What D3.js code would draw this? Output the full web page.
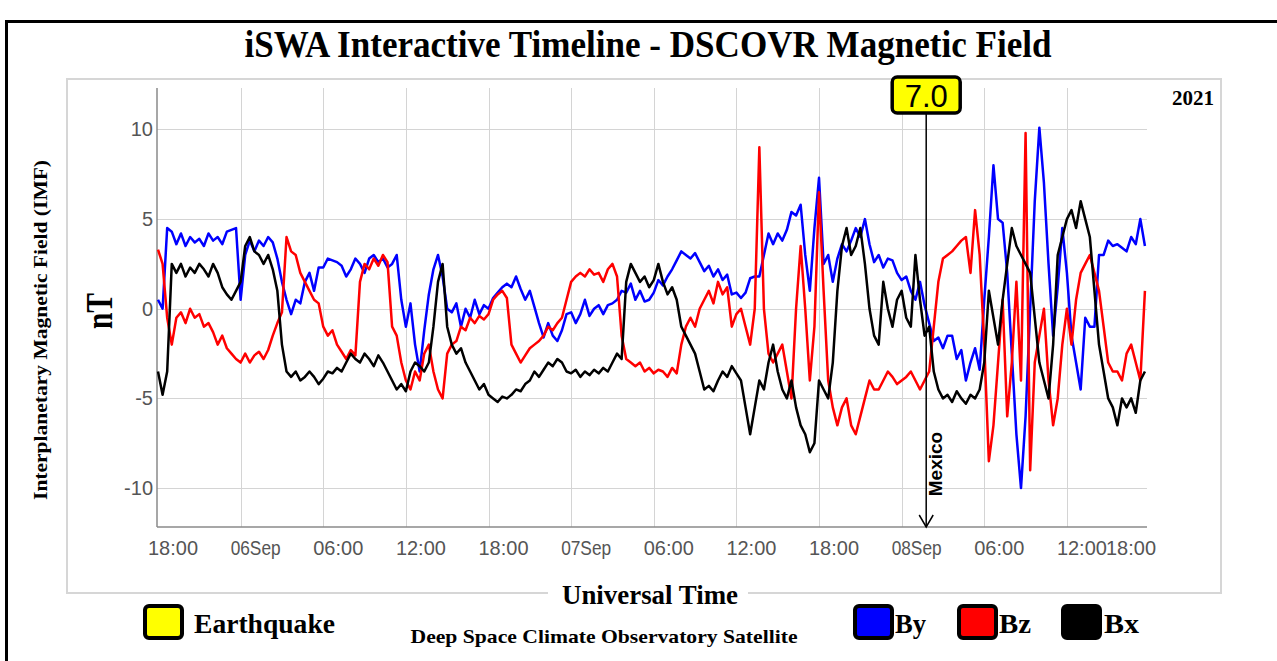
<!DOCTYPE html>
<html><head><meta charset="utf-8">
<script src="https://cdn.jsdelivr.net/npm/d3@7"></script>
<style>html,body{margin:0;padding:0;background:#fff;}svg{display:block;}</style>
</head><body><svg id="c" width="1277" height="661"></svg>
<script>
// ---- data (20-minute samples starting 2021-09-05 18:00 UTC) ----
const startTime = Date.UTC(2021, 8, 5, 18, 0);
const endTime = Date.UTC(2021, 8, 8, 17, 49);
const stepMinutes = 20;
const byValues = [0.5,0.0,4.5,4.3,3.6,4.2,3.5,4.0,3.7,3.9,3.5,4.2,3.8,4.0,3.6,4.3,4.4,4.5,0.5,3.0,3.8,3.2,3.8,3.5,4.0,3.7,2.8,1.5,0.5,-0.3,0.5,0.3,1.5,2.0,1.0,2.3,2.3,2.8,2.7,2.6,2.4,1.8,2.2,2.8,2.5,2.0,2.8,3.0,2.6,2.8,2.3,2.5,3.0,0.5,-1.0,0.3,-2.0,-3.5,-1.2,0.8,2.2,3.0,1.8,0.0,-0.2,0.3,-1.0,0.0,-0.5,0.5,-0.3,0.2,0.0,0.6,0.9,1.2,1.4,1.2,1.8,1.1,0.5,1.0,0.1,-0.8,-1.6,-0.8,-1.5,-1.8,-1.2,-0.3,-0.2,-0.8,-0.3,0.5,-0.4,0.0,0.2,-0.3,0.2,0.3,0.5,1.0,0.9,1.4,0.5,1.0,0.4,0.5,0.9,1.6,1.3,1.8,2.2,2.7,3.2,3.0,2.8,3.1,2.6,2.1,2.4,1.8,2.2,1.6,1.9,0.8,0.9,0.6,0.9,1.7,1.8,1.8,3.0,4.2,3.6,4.2,3.8,4.4,5.4,5.2,5.8,3.0,1.0,4.5,7.3,2.5,3.0,1.5,2.8,3.6,3.2,3.8,4.5,4.0,5.0,3.6,2.6,3.0,2.3,2.8,2.7,2.0,1.6,1.8,1.0,0.5,1.5,0.2,-0.8,-1.8,-1.6,-2.2,-1.5,-1.5,-2.8,-2.3,-4.0,-3.0,-2.2,-3.4,0.5,4.0,8.0,5.0,4.8,2.0,-2.5,-7.0,-10.0,-6.0,0.0,6.0,10.1,7.0,2.5,-1.5,1.2,4.5,2.0,-1.5,-3.0,-4.5,-0.5,-1.0,-1.0,3.0,3.0,3.8,3.5,3.6,3.4,3.2,4.0,3.6,5.0,3.5];
const bzValues = [3.3,2.5,-0.5,-2.0,-0.5,-0.2,-0.8,0.0,-0.5,-0.3,-1.0,-0.8,-1.3,-2.0,-1.5,-2.2,-2.5,-2.8,-3.0,-2.5,-3.0,-2.6,-2.4,-2.8,-2.3,-1.5,-0.8,-0.2,4.0,3.2,3.0,2.0,1.5,1.0,0.5,0.3,-1.0,-1.5,-1.2,-2.0,-2.4,-2.8,-2.3,-2.6,1.5,2.5,2.2,2.8,2.4,3.0,2.6,-1.0,-1.5,-3.0,-4.0,-4.5,-3.5,-4.0,-2.5,-2.0,-3.5,-4.5,-5.0,-2.5,-2.0,-1.8,-1.0,-1.2,-0.5,-0.8,-0.4,-0.6,-0.3,0.5,0.8,1.0,0.6,-2.0,-2.5,-3.0,-2.6,-2.2,-2.0,-1.8,-1.5,-1.0,-1.2,-0.8,-0.5,0.5,1.5,1.8,2.0,1.8,2.2,1.9,2.0,1.5,2.2,2.5,1.8,-1.5,-2.8,-3.0,-3.2,-3.0,-3.5,-3.3,-3.6,-3.4,-3.5,-3.8,-3.3,-3.6,-2.0,-1.0,-0.5,-1.0,0.0,0.5,1.0,0.3,1.5,0.8,1.2,-1.0,-0.3,0.0,-1.0,-2.0,0.0,9.0,0.0,-2.5,-3.0,-2.5,-2.0,-3.5,-5.0,0.0,3.5,0.0,-4.0,-1.0,6.5,1.0,-4.0,-5.5,-6.5,-5.5,-5.0,-6.5,-7.0,-6.0,-5.0,-4.0,-4.5,-4.5,-4.0,-3.5,-3.8,-4.2,-4.0,-3.8,-3.5,-4.0,-4.5,-4.0,-3.5,-1.0,1.5,2.8,3.0,3.2,3.5,3.8,4.0,2.0,5.5,3.0,-2.0,-8.5,-6.5,-3.0,0.5,-6.0,-3.0,1.5,-4.0,9.8,-9.0,-3.0,-1.5,0.0,-4.0,-6.5,-5.0,-2.0,0.0,-2.0,0.5,2.0,2.5,3.0,2.0,1.0,-1.0,-3.0,-3.5,-3.5,-4.0,-2.5,-2.0,-3.0,-4.0,1.0];
const bxValues = [-3.5,-4.8,-3.5,2.5,2.0,2.5,1.8,2.3,2.0,2.5,2.2,1.8,2.5,2.0,1.2,0.8,0.5,1.0,1.5,3.5,4.0,3.2,3.0,2.5,3.0,2.2,1.0,-2.0,-3.5,-3.8,-3.5,-4.0,-3.8,-3.5,-3.8,-4.2,-3.9,-3.5,-3.6,-3.3,-3.5,-3.0,-2.5,-2.8,-3.0,-2.5,-2.8,-3.2,-2.6,-3.0,-3.5,-4.0,-4.5,-4.2,-4.6,-3.5,-3.0,-3.2,-3.5,-3.0,-1.0,1.5,2.5,-1.0,-2.0,-2.5,-2.2,-3.0,-3.5,-4.0,-4.5,-4.2,-4.8,-5.0,-5.2,-4.9,-5.0,-4.8,-4.5,-4.6,-4.2,-4.0,-3.5,-3.8,-3.4,-3.0,-3.2,-2.8,-3.0,-3.5,-3.6,-3.4,-3.8,-3.5,-3.7,-3.4,-3.6,-3.3,-3.5,-3.0,-2.5,-2.8,1.5,2.5,2.0,1.5,1.8,1.2,1.6,2.5,1.5,0.8,1.2,0.5,-1.0,-1.5,-2.0,-2.5,-3.5,-4.5,-4.3,-4.6,-4.0,-3.5,-3.8,-3.2,-3.6,-4.0,-5.5,-7.0,-5.5,-4.0,-4.5,-3.0,-2.0,-3.5,-4.5,-5.0,-4.0,-5.5,-6.5,-7.0,-8.0,-7.5,-4.0,-4.5,-5.0,-3.0,1.0,3.5,4.5,3.0,3.5,4.5,2.5,0.0,-1.5,-2.0,1.5,0.0,-1.0,0.5,1.0,-0.5,-1.0,3.0,0.5,-1.5,-1.0,-3.5,-4.5,-5.0,-4.8,-5.2,-4.6,-5.0,-5.3,-4.8,-5.0,-4.5,-3.0,1.0,-0.5,-2.0,0.5,2.5,4.5,3.5,3.0,2.5,2.0,-0.5,-3.0,-4.0,-5.0,-2.0,3.0,4.0,5.0,5.5,4.5,6.0,5.0,4.0,1.0,-2.0,-3.5,-5.0,-5.5,-6.5,-5.0,-5.5,-5.0,-5.8,-4.0,-3.5];
const seriesNames = ["By", "Bz", "Bx"];
const seriesColors = ["#0000ff", "#ff0000", "#000000"];
const yTicks = [-10, -5, 0, 5, 10];
const yDomain = [-12.17, 12.31];
const xTickLabels = ["18:00","06Sep","06:00","12:00","18:00","07Sep","06:00","12:00","18:00","08Sep","06:00","12:00","18:00"];
const quakeTime = Date.UTC(2021, 8, 8, 1, 47);
const quakeMagnitude = "7.0";
const quakePlace = "Mexico";
const yearLabel = "2021";

// ---- drawing ----
const svg = d3.select("#c");
const W = 1277, H = 661;
const plot = {left: 158, right: 1147, top: 88, bottom: 527};
const serif = "'Liberation Serif','Times New Roman',serif";
const sans = "'Liberation Sans',Arial,sans-serif";

const x = d3.scaleTime().domain([new Date(startTime), new Date(endTime)]).range([plot.left, plot.right]);
const y = d3.scaleLinear().domain(yDomain).range([plot.bottom, plot.top]);

svg.append("rect").attr("width", W).attr("height", H).attr("fill", "#fff");
svg.append("rect").attr("x", 6.5).attr("y", 21.5).attr("width", 1400).attr("height", 800)
  .attr("fill", "none").attr("stroke", "#000").attr("stroke-width", 3);
svg.append("rect").attr("x", 67).attr("y", 79).attr("width", 1154).attr("height", 514)
  .attr("fill", "none").attr("stroke", "#d6d6d6").attr("stroke-width", 2);

svg.append("text").attr("x", 648).attr("y", 57).attr("text-anchor", "middle")
  .attr("font-family", serif).attr("font-weight", "bold").attr("font-size", 38)
  .attr("textLength", 807).attr("lengthAdjust", "spacingAndGlyphs")
  .text("iSWA Interactive Timeline - DSCOVR Magnetic Field");

const hour = 3600 * 1000;
const xTickTimes = xTickLabels.map((d, i) => new Date(startTime + i * 6 * hour));

const g = svg.append("g");
g.selectAll("line.hg").data(yTicks).join("line")
  .attr("x1", plot.left - 1).attr("x2", plot.right)
  .attr("y1", d => Math.round(y(d)) + 0.5).attr("y2", d => Math.round(y(d)) + 0.5)
  .attr("stroke", "#d4d4d4").attr("stroke-width", 1);
g.selectAll("line.vg").data(xTickTimes.filter(t => t > x.domain()[0] && t < x.domain()[1])).join("line")
  .attr("x1", d => Math.round(x(d)) + 0.5).attr("x2", d => Math.round(x(d)) + 0.5)
  .attr("y1", plot.top).attr("y2", plot.bottom)
  .attr("stroke", "#d4d4d4").attr("stroke-width", 1);

svg.append("line").attr("x1", plot.left - 1).attr("x2", plot.left - 1).attr("y1", plot.top).attr("y2", plot.bottom)
  .attr("stroke", "#8a8a8a").attr("stroke-width", 1.5);
svg.append("line").attr("x1", plot.left - 1).attr("x2", plot.right).attr("y1", plot.bottom).attr("y2", plot.bottom)
  .attr("stroke", "#8a8a8a").attr("stroke-width", 1.5);

svg.selectAll("text.yt").data(yTicks).join("text")
  .attr("x", 153).attr("y", d => y(d)).attr("dy", "0.35em").attr("text-anchor", "end")
  .attr("font-family", sans).attr("font-size", 20).attr("fill", "#555")
  .text(d => d);

svg.selectAll("text.xt").data(xTickTimes).join("text")
  .attr("x", (d) => Math.min(x(d) + 15, plot.right - 16)).attr("y", 555).attr("text-anchor", "middle")
  .attr("font-family", sans).attr("font-size", 20).attr("fill", "#555")
  .attr("textLength", 50).attr("lengthAdjust", "spacingAndGlyphs")
  .text((d, i) => xTickLabels[i]);

const seriesData = [byValues, bzValues, bxValues];
const line = d3.line()
  .x((d, i) => x(new Date(startTime + i * stepMinutes * 60000)))
  .y(d => y(d));
seriesData.forEach((vals, k) => {
  svg.append("path").datum(vals).attr("d", line)
    .attr("fill", "none").attr("stroke", seriesColors[k]).attr("stroke-width", 2.5)
    .attr("stroke-linejoin", "round");
});

svg.append("text").attr("x", 1214).attr("y", 105).attr("text-anchor", "end")
  .attr("font-family", serif).attr("font-weight", "bold").attr("font-size", 21)
  .text(yearLabel);

const qx = x(new Date(quakeTime));
svg.append("line").attr("x1", qx).attr("x2", qx).attr("y1", 112).attr("y2", plot.bottom)
  .attr("stroke", "#000").attr("stroke-width", 1.5);
svg.append("path").attr("d", d3.line()([[qx - 7, plot.bottom - 12], [qx, plot.bottom], [qx + 7, plot.bottom - 12]]))
  .attr("fill", "none").attr("stroke", "#000").attr("stroke-width", 1.5);
svg.append("rect").attr("x", qx - 34).attr("y", 77).attr("width", 68).attr("height", 36).attr("rx", 5)
  .attr("fill", "#ffff00").attr("stroke", "#000").attr("stroke-width", 3.5);
svg.append("text").attr("x", qx).attr("y", 107).attr("text-anchor", "middle")
  .attr("font-family", sans).attr("font-size", 31).attr("fill", "#000").text(quakeMagnitude);
svg.append("text").attr("transform", `translate(${qx + 16},464) rotate(-90)`).attr("text-anchor", "middle")
  .attr("font-family", sans).attr("font-weight", "bold").attr("font-size", 19).text(quakePlace);

svg.append("text").attr("transform", "translate(47,330) rotate(-90)").attr("text-anchor", "middle")
  .attr("font-family", serif).attr("font-weight", "bold").attr("font-size", 19)
  .attr("textLength", 340).attr("lengthAdjust", "spacingAndGlyphs")
  .text("Interplanetary Magnetic Field (IMF)");
svg.append("text").attr("transform", "translate(112,311) rotate(-90)").attr("text-anchor", "middle")
  .attr("font-family", serif).attr("font-weight", "bold").attr("font-size", 38)
  .attr("textLength", 36).attr("lengthAdjust", "spacingAndGlyphs")
  .text("nT");

svg.append("rect").attr("x", 548).attr("y", 584).attr("width", 200).attr("height", 20).attr("fill", "#fff");
svg.append("text").attr("x", 650).attr("y", 604).attr("text-anchor", "middle")
  .attr("font-family", serif).attr("font-weight", "bold").attr("font-size", 28)
  .attr("textLength", 176).attr("lengthAdjust", "spacingAndGlyphs")
  .text("Universal Time");

const legendItems = [
  {label: "Earthquake", color: "#ffff00", bx: 145, tx: 194, tl: 141},
  {label: seriesNames[0], color: seriesColors[0], bx: 855, tx: 895, tl: 31},
  {label: seriesNames[1], color: seriesColors[1], bx: 959, tx: 999, tl: 32},
  {label: seriesNames[2], color: seriesColors[2], bx: 1063, tx: 1104, tl: 35}
];
const lg = svg.selectAll("g.lg").data(legendItems).join("g");
lg.append("rect").attr("x", d => d.bx).attr("y", 606).attr("width", 37).attr("height", 32).attr("rx", 4)
  .attr("fill", d => d.color).attr("stroke", "#000").attr("stroke-width", 4);
lg.append("text").attr("x", d => d.tx).attr("y", 633)
  .attr("font-family", serif).attr("font-weight", "bold").attr("font-size", 28)
  .attr("textLength", d => d.tl).attr("lengthAdjust", "spacingAndGlyphs")
  .text(d => d.label);
svg.append("text").attr("x", 604).attr("y", 643).attr("text-anchor", "middle")
  .attr("font-family", serif).attr("font-weight", "bold").attr("font-size", 19)
  .attr("textLength", 387).attr("lengthAdjust", "spacingAndGlyphs")
  .text("Deep Space Climate Observatory Satellite");
</script></body></html>
